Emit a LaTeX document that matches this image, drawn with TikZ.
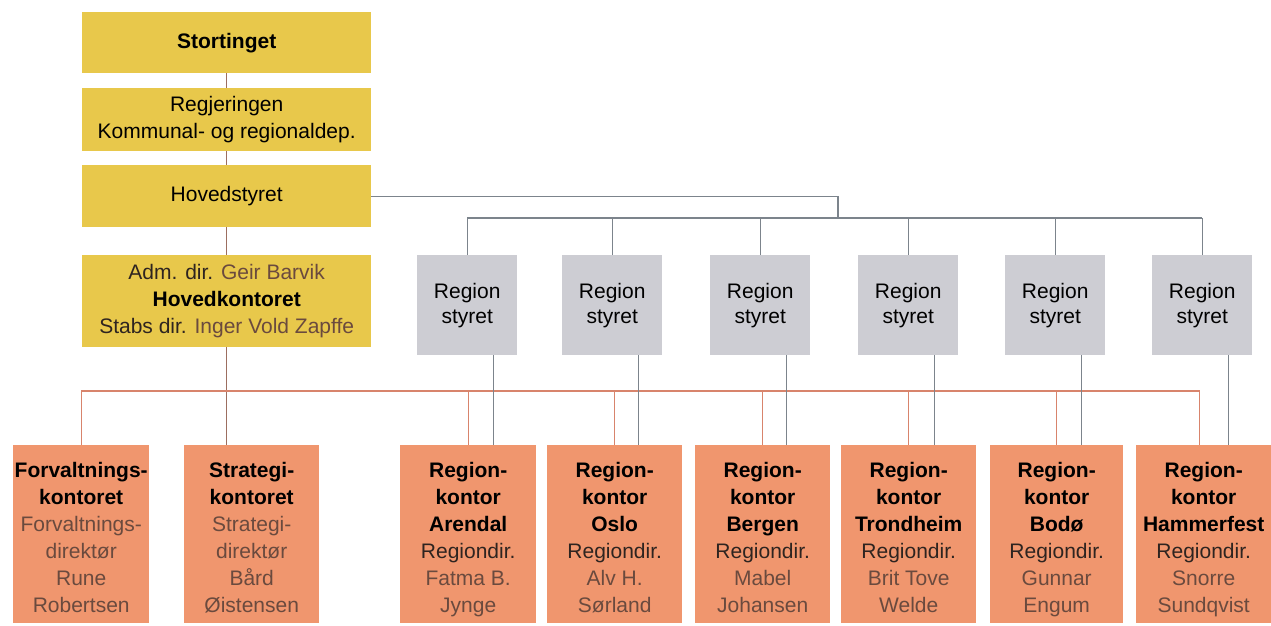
\documentclass[tikz,border=0pt]{standalone}
\usepackage{fontspec}
\setmainfont{Liberation Sans}
\definecolor{yel}{HTML}{E8C84B}
\definecolor{gry}{HTML}{CDCDD3}
\definecolor{org}{HTML}{F0966E}
\definecolor{trunkc}{HTML}{9C6E60}
\definecolor{busc}{HTML}{D8846C}
\definecolor{grl}{HTML}{7C848C}
\definecolor{namec}{HTML}{6A4A3E}
\definecolor{labc}{HTML}{2E2420}
\tikzset{
  box/.style={anchor=north west, inner sep=0pt, align=center, text=black,
    font=\fontsize{21}{27}\selectfont},
  ybox/.style={box, fill=yel, minimum width=289pt},
  gbox/.style={box, fill=gry, minimum width=100pt, minimum height=100pt,
    font=\fontsize{21}{25}\selectfont},
  obox/.style={box, fill=org, minimum width=135pt, minimum height=178pt},
  trunk/.style={draw=trunkc, line width=1.4pt},
  busline/.style={draw=busc, line width=1.4pt},
  greyline/.style={draw=grl, line width=1.4pt},
}
\newcommand{\nm}[1]{\textcolor{namec}{#1}}
\newcommand{\lb}[1]{\textcolor{labc}{#1}}
\newcommand{\tp}{\rule{0pt}{30pt}}
\newcommand{\bt}{\rule[-8pt]{0pt}{8pt}}
\begin{document}
\begin{tikzpicture}[x=1pt,y=-1pt]
\useasboundingbox[fill=white] (0,0) rectangle (1271,625);
% yellow column
\node[ybox, minimum height=61pt] (st) at (82,12) {\textbf{Stortinget}};
\node[ybox, minimum height=63pt] (rg) at (82,88) {Regjeringen\\Kommunal- og regionaldep.};
\node[ybox, minimum height=62pt] (hv) at (82,165) {Hovedstyret};
\node[ybox, minimum height=92pt] (ad) at (82,255) {\lb{Adm. dir.} \nm{Geir Barvik}\\\textbf{Hovedkontoret}\\\lb{Stabs dir.} \nm{Inger Vold Zapffe}};
% grey boxes
\node[gbox] (gr1) at (417,255) {Region\\styret};
\node[gbox] (gr2) at (562,255) {Region\\styret};
\node[gbox] (gr3) at (710,255) {Region\\styret};
\node[gbox] (gr4) at (858,255) {Region\\styret};
\node[gbox] (gr5) at (1005,255) {Region\\styret};
\node[gbox] (gr6) at (1152,255) {Region\\styret};
% orange boxes
\node[obox, minimum width=136pt] (fk) at (13,445) {\tp\textbf{Forvaltnings-}\\\textbf{kontoret}\\\nm{Forvaltnings-}\\\nm{direktør}\\\nm{Rune}\\\nm{Robertsen}\bt};
\node[obox] (sk) at (184,445) {\tp\textbf{Strategi-}\\\textbf{kontoret}\\\nm{Strategi-}\\\nm{direktør}\\\nm{Bård}\\\nm{Øistensen}\bt};
\node[obox, minimum width=136pt] (rk1) at (400,445) {\tp\textbf{Region-}\\\textbf{kontor}\\\textbf{Arendal}\\\lb{Regiondir.}\\\nm{Fatma B.}\\\nm{Jynge}\bt};
\node[obox] (rk2) at (547,445) {\tp\textbf{Region-}\\\textbf{kontor}\\\textbf{Oslo}\\\lb{Regiondir.}\\\nm{Alv H.}\\\nm{Sørland}\bt};
\node[obox] (rk3) at (695,445) {\tp\textbf{Region-}\\\textbf{kontor}\\\textbf{Bergen}\\\lb{Regiondir.}\\\nm{Mabel}\\\nm{Johansen}\bt};
\node[obox] (rk4) at (841,445) {\tp\textbf{Region-}\\\textbf{kontor}\\\textbf{Trondheim}\\\lb{Regiondir.}\\\nm{Brit Tove}\\\nm{Welde}\bt};
\node[obox, minimum width=133pt] (rk5) at (990,445) {\tp\textbf{Region-}\\\textbf{kontor}\\\textbf{Bodø}\\\lb{Regiondir.}\\\nm{Gunnar}\\\nm{Engum}\bt};
\node[obox] (rk6) at (1136,445) {\tp\textbf{Region-}\\\textbf{kontor}\\\textbf{Hammerfest}\\\lb{Regiondir.}\\\nm{Snorre}\\\nm{Sundqvist}\bt};
% coordinates
\coordinate (jn) at (838,218);
\coordinate (bus) at (82,391);
% trunk
\draw[trunk] (st.south) -- (rg.north);
\draw[trunk] (rg.south) -- (hv.north);
\draw[trunk] (hv.south) -- (ad.north);
\draw[trunk] (ad.south) -- (ad.south |- sk.north);
% red bus
\draw[busline] (fk.north) -- (fk.north |- bus) -- ([xshift=-4pt]rk6.north |- bus) -- ([xshift=-4pt]rk6.north);
\foreach \n in {rk1,rk2,rk3,rk4,rk5}{
  \draw[busline] (\n.north |- bus) -- (\n.north);
}
% grey
\draw[greyline] (hv.east) -| (jn);
\draw[greyline] (gr1.north |- jn) -- (gr6.north |- jn);
\foreach \i in {1,...,6}{
  \draw[greyline] (gr\i.north |- jn) -- (gr\i.north);
  \draw[greyline] ([xshift=26pt]gr\i.south) -- ([xshift=26pt]gr\i.south |- rk\i.north);
}
\end{tikzpicture}
\end{document}
